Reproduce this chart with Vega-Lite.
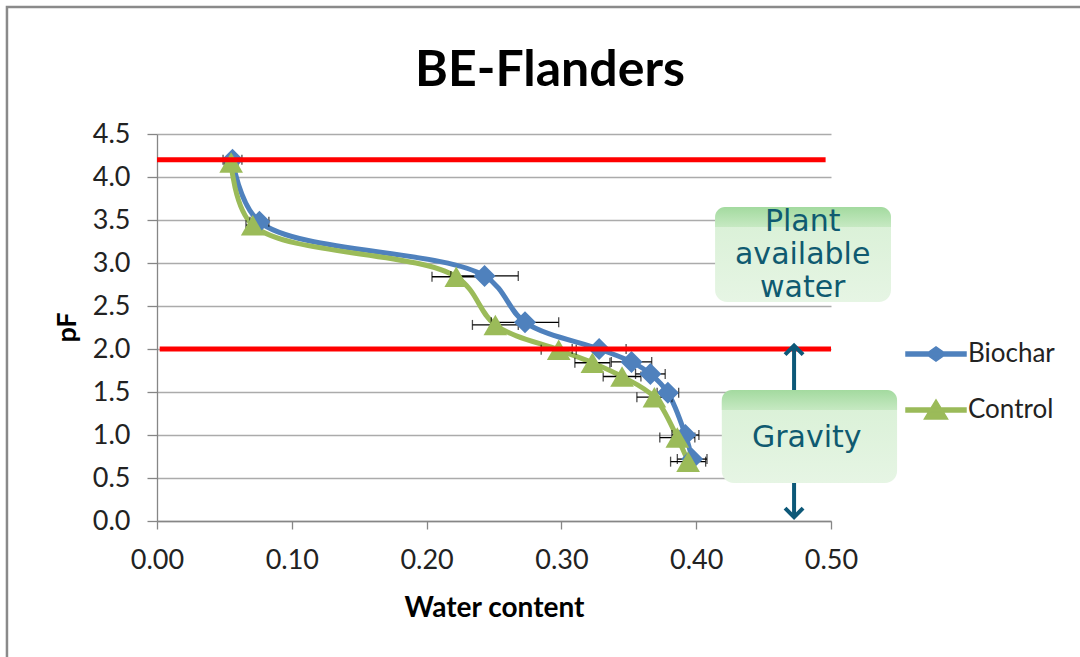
{
  "$schema": "https://vega.github.io/schema/vega-lite/v6.json",
  "autosize": {"type": "none"},
  "width": 674,
  "height": 387,
  "padding": {"left": 157, "top": 134, "right": 249, "bottom": 136},
  "background": "#ffffff",
  "title": {"text": "BE-Flanders", "font": "Lato", "fontSize": 50, "fontWeight": "bold", "color": "#000000", "anchor": "middle", "dx": 56, "dy": 179, "offset": 49, "baseline": "alphabetic"},
  "config": {"view": {"stroke": null}},
  "datasets": {
    "curves": [
      {"series": "Biochar", "i": 1, "x": 0.056, "y": 4.2, "err": 0.007},
      {"series": "Biochar", "i": 2, "x": 0.076, "y": 3.48, "err": 0.007},
      {"series": "Biochar", "i": 3, "x": 0.243, "y": 2.85, "err": 0.025},
      {"series": "Biochar", "i": 4, "x": 0.273, "y": 2.31, "err": 0.025},
      {"series": "Biochar", "i": 5, "x": 0.328, "y": 2.0, "err": 0.02},
      {"series": "Biochar", "i": 6, "x": 0.352, "y": 1.85, "err": 0.015},
      {"series": "Biochar", "i": 7, "x": 0.366, "y": 1.71, "err": 0.011},
      {"series": "Biochar", "i": 8, "x": 0.379, "y": 1.49, "err": 0.008},
      {"series": "Biochar", "i": 9, "x": 0.392, "y": 1.0, "err": 0.01},
      {"series": "Biochar", "i": 10, "x": 0.397, "y": 0.72, "err": 0.011},
      {"series": "Control", "i": 1, "x": 0.055, "y": 4.17, "err": 0.005},
      {"series": "Control", "i": 2, "x": 0.071, "y": 3.44, "err": 0.005},
      {"series": "Control", "i": 3, "x": 0.222, "y": 2.84, "err": 0.018},
      {"series": "Control", "i": 4, "x": 0.251, "y": 2.28, "err": 0.017},
      {"series": "Control", "i": 5, "x": 0.298, "y": 1.99, "err": 0.013},
      {"series": "Control", "i": 6, "x": 0.323, "y": 1.84, "err": 0.013},
      {"series": "Control", "i": 7, "x": 0.345, "y": 1.68, "err": 0.014},
      {"series": "Control", "i": 8, "x": 0.369, "y": 1.44, "err": 0.013},
      {"series": "Control", "i": 9, "x": 0.386, "y": 0.97, "err": 0.013},
      {"series": "Control", "i": 10, "x": 0.394, "y": 0.69, "err": 0.013}
    ],
    "legendonly": [],
    "frame": [{"x": -0.1113, "x2": 0.69, "y": 5.977, "y2": -1.7}],
    "redlines": [
      {"y": 4.2, "x": 0.0, "x2": 0.496},
      {"y": 2.0, "x": 0.002, "x2": 0.5}
    ],
    "arrowlines": [
      {"x": 0.4726, "y": 2.02, "y2": 1.52},
      {"x": 0.4726, "y": 0.45, "y2": 0.06}
    ],
    "arrowup": [{"x": 0.4726, "y": 2.04}],
    "arrowdown": [{"x": 0.4726, "y": 0.045}],
    "boxes": [
      {"name": "Plant available water", "x": 0.414, "x2": 0.5445, "y": 3.651, "y2": 2.547, "band": 3.42},
      {"name": "Gravity", "x": 0.419, "x2": 0.549, "y": 1.523, "y2": 0.442, "band": 1.29}
    ],
    "labels": [
      {"text": "Plant\navailable\nwater", "x": 0.479, "y": 3.477},
      {"text": "Gravity", "x": 0.482, "y": 0.965}
    ]
  },
  "layer": [
    {
      "data": {"name": "frame"},
      "mark": {"type": "rect", "fill": null, "fillOpacity": 0, "stroke": "#8A8A8A", "strokeWidth": 2.5},
      "encoding": {
        "x": {"field": "x", "type": "quantitative"},
        "x2": {"field": "x2"},
        "y": {"field": "y", "type": "quantitative"},
        "y2": {"field": "y2"}
      }
    },
    {
      "data": {"name": "curves"},
      "mark": {"type": "line", "interpolate": "catmull-rom", "strokeWidth": 5},
      "encoding": {
        "x": {"field": "x", "type": "quantitative", "title": "Water content", "scale": {"domain": [0, 0.5], "nice": false, "zero": false},
          "axis": {"values": [0, 0.1, 0.2, 0.3, 0.4, 0.5], "format": ".2f", "grid": false, "domainColor": "#868686", "domainWidth": 1.3, "tickColor": "#868686", "tickWidth": 1.3, "tickSize": 8, "labelFont": "Lato", "labelFontSize": 27, "labelColor": "#222222", "labelPadding": 39, "labelBaseline": "alphabetic", "labelFlush": false, "labelOverlap": false, "title": "Water content", "titleFont": "Lato", "titleFontSize": 28, "titleFontWeight": "bold", "titleColor": "#000000", "titleY": 95, "titleBaseline": "alphabetic"}},
        "y": {"field": "y", "type": "quantitative", "title": "pF", "scale": {"domain": [0, 4.5], "nice": false, "zero": false},
          "axis": {"values": [0, 0.5, 1, 1.5, 2, 2.5, 3, 3.5, 4, 4.5], "format": ".1f", "grid": true, "gridColor": "#ABABAB", "gridWidth": 1.3, "domainColor": "#868686", "domainWidth": 1.3, "tickColor": "#868686", "tickWidth": 1.3, "tickSize": 10, "labelPadding": 17, "labelFont": "Lato", "labelFontSize": 27, "labelColor": "#222222", "labelFlush": false, "labelOverlap": false, "title": "pF", "titleFont": "Lato", "titleFontSize": 27, "titleFontWeight": "bold", "titleColor": "#000000", "titleX": -82, "titleY": 193, "titleAngle": 270, "titleBaseline": "alphabetic", "titleAlign": "center"}},
        "order": {"field": "i", "type": "quantitative"},
        "color": {"field": "series", "type": "nominal",
          "scale": {"domain": ["Biochar", "Control"], "range": ["#4F81BD", "#9BBB59"]},
          "legend": {"orient": "none", "legendX": 763, "legendY": 204, "title": null, "padding": 0,
            "labelFont": "Lato", "labelFontSize": 26, "labelColor": "#222222", "symbolSize": 900, "labelOffset": 16, "rowPadding": 27, "symbolOpacity": 1}}
      }
    },
    {
      "data": {"name": "curves"},
      "mark": {"type": "errorbar", "color": "#000000", "thickness": 1.3, "ticks": {"size": 10, "thickness": 1.3}},
      "encoding": {
        "x": {"field": "x", "type": "quantitative", "title": "Water content"},
        "xError": {"field": "err"},
        "y": {"field": "y", "type": "quantitative", "title": "pF"}
      }
    },
    {
      "data": {"name": "curves"},
      "transform": [{"filter": "datum.series === 'Biochar'"}],
      "mark": {"type": "point", "filled": true, "opacity": 1, "size": 484, "shape": "diamond"},
      "encoding": {
        "x": {"field": "x", "type": "quantitative", "title": "Water content"},
        "y": {"field": "y", "type": "quantitative", "title": "pF"},
        "color": {"field": "series", "type": "nominal"}
      }
    },
    {
      "data": {"name": "curves"},
      "transform": [{"filter": "datum.series === 'Control'"}],
      "mark": {"type": "point", "filled": true, "opacity": 1, "size": 560, "shape": "triangle-up"},
      "encoding": {
        "x": {"field": "x", "type": "quantitative", "title": "Water content"},
        "y": {"field": "y", "type": "quantitative", "title": "pF"},
        "color": {"field": "series", "type": "nominal"}
      }
    },
    {
      "data": {"name": "legendonly"},
      "mark": {"type": "point", "filled": true, "opacity": 1, "size": 900},
      "encoding": {
        "x": {"field": "x", "type": "quantitative", "title": "Water content"},
        "y": {"field": "y", "type": "quantitative", "title": "pF"},
        "color": {"field": "series", "type": "nominal"},
        "shape": {"field": "series", "type": "nominal",
          "scale": {"domain": ["Biochar", "Control"], "range": ["M-2,-0.13H2V0.13H-2ZM-0.67,0L0,-0.47L0.67,0L0,0.47Z", "M-2,-0.13H2V0.13H-2ZM-0.77,0.6L0,-0.67L0.77,0.6Z"]},
          "legend": null}
      }
    },
    {
      "data": {"name": "redlines"},
      "mark": {"type": "rule", "color": "#FF0000", "strokeWidth": 5},
      "encoding": {
        "x": {"field": "x", "type": "quantitative"},
        "x2": {"field": "x2"},
        "y": {"field": "y", "type": "quantitative"}
      }
    },
    {
      "data": {"name": "arrowlines"},
      "mark": {"type": "rule", "color": "#0D5878", "strokeWidth": 4},
      "encoding": {
        "x": {"field": "x", "type": "quantitative"},
        "y": {"field": "y", "type": "quantitative"},
        "y2": {"field": "y2"}
      }
    },
    {
      "data": {"name": "arrowup"},
      "mark": {"type": "point", "shape": "M-1,1L0,0L1,1", "size": 324, "filled": false, "stroke": "#0D5878", "strokeWidth": 4, "opacity": 1},
      "encoding": {
        "x": {"field": "x", "type": "quantitative"},
        "y": {"field": "y", "type": "quantitative"}
      }
    },
    {
      "data": {"name": "arrowdown"},
      "mark": {"type": "point", "shape": "M-1,-1L0,0L1,-1", "size": 324, "filled": false, "stroke": "#0D5878", "strokeWidth": 4, "opacity": 1},
      "encoding": {
        "x": {"field": "x", "type": "quantitative"},
        "y": {"field": "y", "type": "quantitative"}
      }
    },
    {
      "data": {"name": "boxes"},
      "mark": {"type": "rect", "cornerRadius": 12,
        "fill": {"gradient": "linear", "x1": 0, "y1": 0, "x2": 0, "y2": 1, "stops": [{"offset": 0, "color": "#D8F0D5"}, {"offset": 1, "color": "#E6F5E4"}]}},
      "encoding": {
        "x": {"field": "x", "type": "quantitative"},
        "x2": {"field": "x2"},
        "y": {"field": "y", "type": "quantitative"},
        "y2": {"field": "y2"}
      }
    },
    {
      "data": {"name": "boxes"},
      "mark": {"type": "rect", "cornerRadiusTopLeft": 12, "cornerRadiusTopRight": 12,
        "fill": {"gradient": "linear", "x1": 0, "y1": 0, "x2": 0, "y2": 1, "stops": [{"offset": 0, "color": "#A3DA9F"}, {"offset": 1, "color": "#C6E9C2"}]}},
      "encoding": {
        "x": {"field": "x", "type": "quantitative"},
        "x2": {"field": "x2"},
        "y": {"field": "y", "type": "quantitative"},
        "y2": {"field": "band"}
      }
    },
    {
      "data": {"name": "labels"},
      "mark": {"type": "text", "font": "DejaVu Sans", "fontSize": 30, "color": "#0F5A70", "align": "center", "baseline": "middle", "lineBreak": "\n", "lineHeight": 33},
      "encoding": {
        "x": {"field": "x", "type": "quantitative"},
        "y": {"field": "y", "type": "quantitative"},
        "text": {"field": "text"}
      }
    }
  ]
}
